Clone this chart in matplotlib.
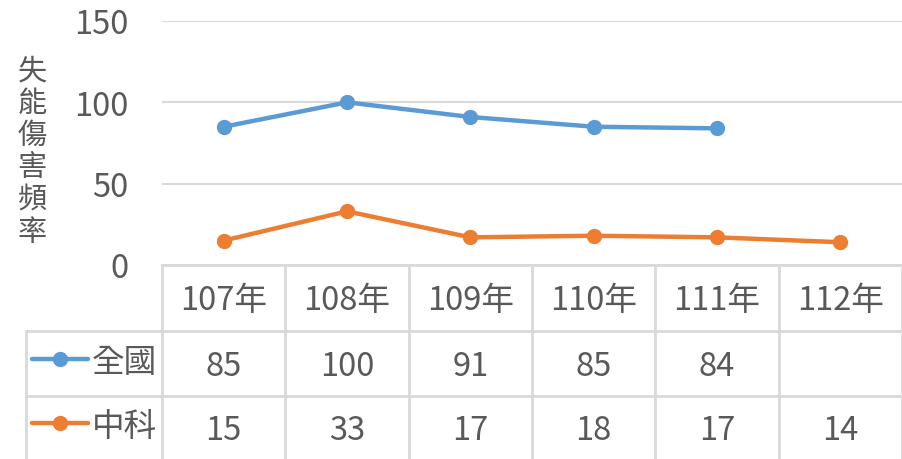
import numpy as np
import matplotlib.pyplot as plt

plt.rcParams['font.family'] = ['Noto Sans CJK TC', 'DejaVu Sans']

# data
years = ['107年', '108年', '109年', '110年', '111年', '112年']
national = [85, 100, 91, 85, 84, np.nan]
zhongke = [15, 33, 17, 18, 17, 14]
series_names = ['全國', '中科']
yticks = [0, 50, 100, 150]

blue = '#5B9BD5'
orange = '#ED7D31'
grid_c = '#D9D9D9'
txt_c = '#595959'
fs = 23.5

W, H = 902, 460
fig = plt.figure(figsize=(W / 100, H / 100), dpi=100)

# main plot area
ax = fig.add_axes([162 / W, (H - 266) / H, 740 / W, (266 - 22) / H])
x = np.arange(len(years))
ax.plot(x, national, color=blue, lw=3.2, marker='o', ms=10, solid_capstyle='round')
ax.plot(x, zhongke, color=orange, lw=3.2, marker='o', ms=10, solid_capstyle='round')
ax.set_xlim(-0.5, len(years) - 0.5)
ax.set_ylim(0, 150)
ax.set_yticks(yticks)
ax.set_xticks([])
ax.grid(axis='y', color=grid_c, lw=1.5)
ax.set_axisbelow(True)
for s in ax.spines.values():
    s.set_visible(False)
ax.tick_params(axis='y', length=0, pad=24, labelsize=fs, labelcolor=txt_c)

fig.text(32 / W, 1 - 152 / H, '\n'.join('失能傷害頻率'), ha='center', va='center',
         fontsize=fs - 2.5, color=txt_c, linespacing=1.1)

# data table
tb = fig.add_axes([162 / W, 0, 740 / W, (H - 266) / H])
tb.set_xlim(-0.5, len(years) - 0.5)
tb.set_ylim(H - 266, 0)
tb.axis('off')
left = -0.5 - (162 - 26) / 740 * len(years)
row_lines = [66, 131]
row_mid = [35, 101, 165]

tb.axhline(0, color=grid_c, lw=2, clip_on=False)
for r in row_lines:
    tb.plot([left, len(years) - 0.5], [r, r], color=grid_c, lw=2, clip_on=False)
for i in range(len(years) + 1):
    tb.plot([i - 0.5, i - 0.5], [0, H - 266], color=grid_c, lw=2, clip_on=False)
tb.plot([left, left], [row_lines[0], H - 266], color=grid_c, lw=2, clip_on=False)

for i, yr in enumerate(years):
    tb.text(i, row_mid[0], yr, ha='center', va='center', fontsize=fs, color=txt_c)
for vals, name, col, ym in [(national, series_names[0], blue, row_mid[1]),
                            (zhongke, series_names[1], orange, row_mid[2])]:
    for i, v in enumerate(vals):
        if not np.isnan(v):
            tb.text(i, ym, f'{v:.0f}', ha='center', va='center', fontsize=fs, color=txt_c)
    kx0 = left + (32 - 26) / 740 * len(years)
    kx1 = left + (88 - 26) / 740 * len(years)
    tb.plot([kx0, kx1], [ym - 7, ym - 7], color=col, lw=3.2, solid_capstyle='round', clip_on=False)
    tb.plot([(kx0 + kx1) / 2], [ym - 7], 'o', color=col, ms=10, clip_on=False)
    tb.text(left + (92 - 26) / 740 * len(years), ym - 4, name, ha='left', va='center',
            fontsize=fs, color=txt_c)

fig.savefig('out.png', dpi=100)
